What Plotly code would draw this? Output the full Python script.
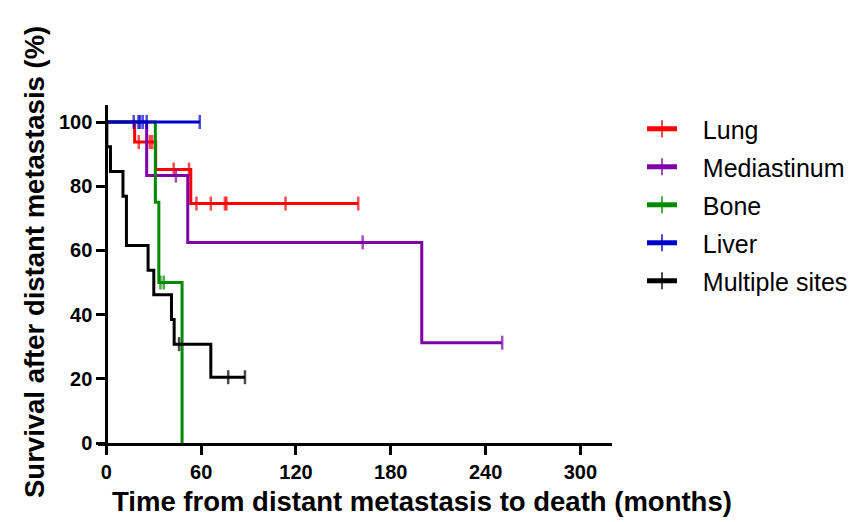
import plotly.graph_objects as go

# ---- data (months, survival %) ----
lung_time = [0, 17.9, 20.5, 27.5, 29.0, 31.2, 42.6, 52.3, 53.4, 57.0, 66.1, 75.0, 76.0, 113.4, 159.4]
lung_surv = [100, 93.75, 93.75, 93.75, 93.75, 85.2, 85.2, 85.2, 74.6, 74.6, 74.6, 74.6, 74.6, 74.6, 74.6]
lung_cens = [0, 0, 1, 1, 1, 0, 1, 1, 0, 1, 1, 1, 1, 1, 1]

med_time = [0, 25.5, 44.0, 51.5, 162.2, 199.6, 250.5]
med_surv = [100, 83.3, 83.3, 62.5, 62.5, 31.25, 31.25]
med_cens = [0, 0, 1, 0, 1, 0, 1]

bone_time = [0, 31.0, 33.2, 34.2, 36.3, 47.9]
bone_surv = [100, 75, 50, 50, 50, 0]
bone_cens = [0, 0, 0, 1, 1, 0]

liver_time = [0, 17.3, 20.3, 21.3, 23.0, 25.5, 59.1]
liver_surv = [100, 100, 100, 100, 100, 100, 100]
liver_cens = [0, 1, 1, 1, 1, 1, 1]

multi_time = [0, 0.3, 2.6, 10.5, 12.7, 26.4, 30.0, 41.2, 42.9, 46.0, 66.1, 77.1, 87.7]
multi_surv = [100, 92.3, 84.6, 76.9, 61.5, 53.8, 46.2, 38.5, 30.8, 30.8, 20.5, 20.5, 20.5]
multi_cens = [0, 0, 0, 0, 0, 0, 0, 0, 0, 1, 0, 1, 1]

x_ticks = [0, 60, 120, 180, 240, 300]
y_ticks = [0, 20, 40, 60, 80, 100]

series = [
    ("Lung", lung_time, lung_surv, lung_cens, "#FF0000"),
    ("Mediastinum", med_time, med_surv, med_cens, "#8000A8"),
    ("Bone", bone_time, bone_surv, bone_cens, "#008A00"),
    ("Liver", liver_time, liver_surv, liver_cens, "#0000CC"),
    ("Multiple sites", multi_time, multi_surv, multi_cens, "#000000"),
]

PAD = "\u00a0\u00a0\u00a0"
fig = go.Figure()
for name, t, s, c, col in series:
    fig.add_trace(go.Scatter(
        x=t, y=s, mode="lines+markers", name=PAD + name, legendgroup=name,
        line=dict(color=col, width=3, shape="hv"),
        marker=dict(symbol="line-ns", size=[10 if ci else 0 for ci in c],
                    color=col, line=dict(color=col, width=2.5)),
        cliponaxis=False,
    ))

tickfont = dict(family="Arial, Liberation Sans, sans-serif", size=20, color="black", weight="bold")
titlefont = dict(family="Arial, Liberation Sans, sans-serif", size=27.5, color="black", weight="bold")

xmin, xmax = -5.3, 320
fig.update_layout(
    width=851, height=514,
    margin=dict(l=90, r=247, t=97, b=79),
    paper_bgcolor="white", plot_bgcolor="white",
    showlegend=True,
    legend=dict(xref="container", yref="container", x=634 / 851, y=0.8093,
                xanchor="left", yanchor="top",
                font=dict(family="Arial, Liberation Sans, sans-serif", size=25, color="black"),
                itemsizing="constant", bgcolor="rgba(0,0,0,0)", borderwidth=0,
                traceorder="grouped", tracegroupgap=2.5),
    xaxis=dict(range=[xmin, xmax], tickvals=x_ticks, showline=True, linecolor="black",
               linewidth=3, ticks="outside", ticklen=9, tickwidth=3, tickcolor="black",
               showgrid=False, zeroline=False, tickfont=tickfont),
    yaxis=dict(range=[0, 105.3], tickvals=y_ticks, anchor="free",
               position=(0 - xmin) / (xmax - xmin),
               showline=True, linecolor="black", linewidth=3, ticks="outside", ticklen=9,
               tickwidth=3, tickcolor="black", showgrid=False, zeroline=False,
               tickfont=tickfont),
    annotations=[
        dict(text="Time from distant metastasis to death (months)", x=0.6297, y=-0.1716,
             xref="paper", yref="paper", xanchor="center", yanchor="middle",
             showarrow=False, font=titlefont),
        dict(text="Survival after distant metastasis (%)", x=-0.1245, y=0.5355,
             xref="paper", yref="paper", xanchor="center", yanchor="middle",
             textangle=-90, showarrow=False, font=titlefont),
    ],
)

fig.write_html("out.html")
